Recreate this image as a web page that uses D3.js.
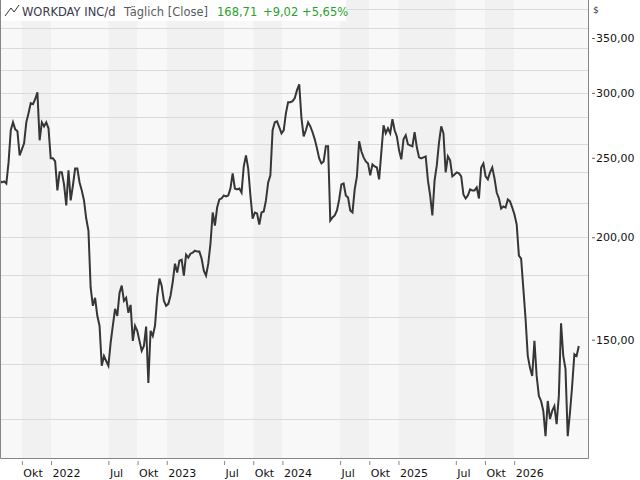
<!DOCTYPE html>
<html>
<head>
<meta charset="utf-8">
<script src="https://cdn.jsdelivr.net/npm/d3@7/dist/d3.min.js"></script>
<style>
  body { margin: 0; background: #fff; }
  svg text { font-family: "DejaVu Sans", Verdana, sans-serif; }
</style>
</head>
<body>
<svg id="chart" width="640" height="480"></svg>
<script>

// weekly closes (USD), first one on startDate, one per week after that
var startDate = "2021-07-23"
var closes = [
  234.6, 233.3, 234.0, 232.6, 246.8, 270.1, 276.2, 270.8, 269.3, 251.7,
  256.0, 260.4, 276.2, 283.4, 291.5, 290.7, 294.7, 300.5, 262.6, 276.2,
  273.1, 276.2, 271.6, 249.6, 249.6, 247.5, 228.1, 240.0, 240.0, 232.0,
  218.7, 241.3, 221.8, 231.3, 242.6, 242.6, 233.3, 228.1, 221.8, 210.8,
  203.8, 173.6, 165.0, 168.7, 160.4, 156.0, 139.4, 143.3, 141.3, 139.4,
  148.7, 156.0, 163.6, 160.4, 171.1, 174.6, 167.3, 168.7, 161.8, 165.4,
  149.5, 156.0, 153.8, 149.5, 145.4, 147.4, 155.6, 132.8, 153.8, 151.6,
  156.0, 169.2, 178.1, 174.6, 167.3, 165.0, 165.9, 169.7, 176.5, 185.7,
  181.1, 187.3, 187.8, 179.6, 190.5, 188.9, 191.0, 191.6, 192.6, 192.1,
  192.1, 188.4, 182.1, 179.6, 185.7, 196.5, 214.4, 206.7, 217.4, 222.4,
  223.0, 224.9, 224.3, 224.9, 229.4, 239.3, 229.4, 228.8, 229.4, 226.8,
  244.1, 251.7, 242.6, 224.9, 210.8, 214.4, 213.8, 207.3, 214.4, 215.0,
  221.8, 233.3, 238.0, 270.1, 276.2, 277.0, 272.4, 267.8, 270.1, 283.4,
  292.3, 292.3, 293.1, 295.6, 302.3, 307.3, 279.4, 265.5, 270.1, 276.2,
  273.1, 268.6, 263.3, 256.7, 249.6, 246.1, 247.5, 258.2, 258.2, 209.6,
  211.4, 212.6, 215.6, 222.4, 232.0, 232.6, 224.9, 223.6, 215.6, 214.4,
  228.8, 237.3, 261.9, 254.6, 250.3, 247.5, 246.1, 238.0, 245.4, 244.0,
  243.3, 235.3, 253.8, 273.9, 267.8, 271.6, 267.8, 278.6, 270.1, 265.5,
  255.3, 248.9, 263.3, 266.3, 259.6, 258.9, 258.2, 268.6, 257.5, 250.3,
  249.6, 250.3, 251.0, 234.6, 224.9, 212.6, 234.6, 244.7, 261.1, 273.1,
  267.8, 240.0, 251.0, 248.2, 237.3, 238.6, 240.0, 239.3, 237.3, 225.5,
  223.0, 224.9, 228.8, 228.1, 228.1, 230.0, 223.0, 243.3, 246.1, 237.3,
  235.3, 240.0, 243.3, 236.0, 226.8, 223.0, 216.8, 218.1, 217.4, 222.4,
  221.2, 217.4, 213.2, 207.3, 190.0, 188.4, 173.1, 159.1, 143.3, 138.6,
  135.5, 149.5, 135.5, 128.1, 126.3, 122.8, 114.4, 126.3, 120.1, 122.8,
  124.5, 118.3, 128.1, 157.1, 143.3, 138.2, 114.4, 122.1, 131.7, 144.0,
  143.3, 147.4
]

var tickDates = [
  "2021-10-01", "2022-01-01", "2022-07-01", "2022-10-01", "2023-01-01",
  "2023-07-01", "2023-10-01", "2024-01-01", "2024-07-01", "2024-10-01",
  "2025-01-01", "2025-07-01", "2025-10-01", "2026-01-01"
]
var monthNames = {6: "Jul", 9: "Okt"}
var priceTicks = [150, 200, 250, 300, 350]
var gridPrices = [120, 140, 160, 180, 200, 220, 240, 260, 280, 300, 320, 340, 360, 380]

var titleParts = [
  {text: "WORKDAY INC/d", color: "#3a3a4a"},
  {text: "Täglich [Close]", color: "#5a5a5a"},
  {text: "168,71", color: "#2aa02a"},
  {text: "+9,02", color: "#2aa02a"},
  {text: "+5,65%", color: "#2aa02a"}
]

var plotW = 588, plotH = 458

var parseDay = d3.utcParse("%Y-%m-%d")
var t0 = parseDay(startDate)
var series = closes.map(function(c, i) {
  return {date: d3.utcDay.offset(t0, 7 * i), close: c}
})
var ticks = tickDates.map(parseDay)

var x = d3.scaleUtc()
    .domain([parseDay("2021-07-24"), parseDay("2026-08-22")])
    .range([0, plotW])

var y = d3.scaleLog()
    .domain([107.6, 389.4])
    .range([plotH, 0])

var svg = d3.select("#chart")
var fmt = function(v) { return d3.format(".2f")(v).replace(".", ",") }

// alternating background bands between the labelled dates
var edges = [x.domain()[0]].concat(ticks, [x.domain()[1]])
svg.append("g").selectAll("rect")
    .data(d3.pairs(edges))
  .enter().append("rect")
    .attr("x", function(d) { return x(d[0]) })
    .attr("y", 0)
    .attr("width", function(d) { return x(d[1]) - x(d[0]) })
    .attr("height", plotH)
    .attr("fill", function(d, i) { return i % 2 ? "#f1f1f1" : "#f8f8f8" })

// horizontal grid
svg.append("g").selectAll("line")
    .data(gridPrices)
  .enter().append("line")
    .attr("x1", 0)
    .attr("x2", plotW)
    .attr("y1", function(d) { return Math.round(y(d)) + 0.5 })
    .attr("y2", function(d) { return Math.round(y(d)) + 0.5 })
    .attr("stroke", "#dadada")

// price line
var line = d3.line()
    .x(function(d) { return x(d.date) })
    .y(function(d) { return y(d.close) })

svg.append("path")
    .datum(series)
    .attr("fill", "none")
    .attr("stroke", "#363636")
    .attr("stroke-width", 2)
    .attr("stroke-linejoin", "miter")
    .attr("d", line)

// frame: left, bottom, right
svg.append("path")
    .attr("d", "M0.5,0V" + (plotH + 0.5) + "H" + (plotW + 0.5) + "V0")
    .attr("fill", "none")
    .attr("stroke", "#858585")

// x axis
var xAxis = d3.axisBottom(x)
    .tickValues(ticks)
    .tickSize(4)
    .tickPadding(4)
    .tickFormat(function(d) {
      var m = d.getUTCMonth()
      return m === 0 ? d.getUTCFullYear() : monthNames[m]
    })

var gx = svg.append("g")
    .attr("transform", "translate(0," + (plotH + 3) + ")")
    .call(xAxis)
gx.select(".domain").remove()
gx.selectAll(".tick line").attr("stroke", "#888")
gx.selectAll(".tick text")
    .attr("text-anchor", "start")
    .attr("x", 1)
    .attr("font-size", 11)
    .attr("font-family", null)
    .attr("fill", "#111")

// y axis on the right
var yAxis = d3.axisRight(y)
    .tickValues(priceTicks)
    .tickSize(0)
    .tickPadding(8)
    .tickFormat(fmt)

var gy = svg.append("g")
    .attr("transform", "translate(" + plotW + ",0)")
    .call(yAxis)
gy.select(".domain").remove()
gy.selectAll(".tick").append("line")
    .attr("x1", 4)
    .attr("x2", 7)
    .attr("stroke", "#666")
gy.selectAll(".tick text")
    .attr("font-size", 11)
    .attr("font-family", null)
    .attr("fill", "#111")

svg.append("text")
    .attr("x", 593)
    .attr("y", 13)
    .attr("font-size", 9)
    .attr("fill", "#333")
    .text("$")

// header / legend
var head = svg.append("g")
head.append("rect")
    .attr("x", 1)
    .attr("y", 0)
    .attr("width", 345)
    .attr("height", 21)
    .attr("fill", "#fff")
head.append("path")
    .attr("d", "M5,16L11,8L14,12L19,5")
    .attr("fill", "none")
    .attr("stroke", "#333")
    .attr("stroke-width", 1)

var headX = [22, 124, 217, 263, 302]
head.selectAll("text")
    .data(titleParts)
  .enter().append("text")
    .attr("x", function(d, i) { return headX[i] })
    .attr("y", 16)
    .attr("font-size", 11.5)
    .attr("fill", function(d) { return d.color })
    .text(function(d) { return d.text })

</script>
</body>
</html>
